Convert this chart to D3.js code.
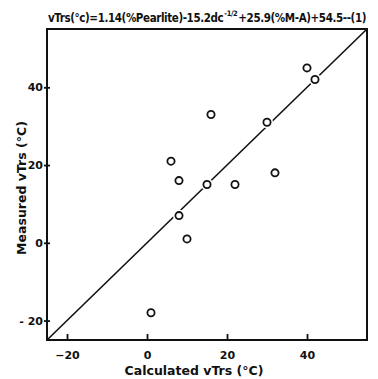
<!DOCTYPE html>
<meta charset="utf-8">
<style>
body { margin: 0; background: #fff; }
text { font-family: "DejaVu Sans", sans-serif; font-weight: bold; fill: #111; }
.tick text { font-size: 11px; }
.eq { font-family: "DejaVu Sans Condensed", "Liberation Sans Narrow", "DejaVu Sans", sans-serif; letter-spacing: -0.4px; }
</style>
<svg width="378" height="379"></svg>
<script src="https://d3js.org/d3.v7.min.js"></script>
<script>
// calculated vTrs (x) vs measured vTrs (y), degrees C
var calculated = [1, 6, 8, 8, 10, 15, 16, 22, 30, 32, 40, 42];
var measured = [-18, 21, 16, 7, 1, 15, 33, 15, 31, 18, 45, 42];
var xTicks = [-20, 0, 20, 40];
var yTicks = [-20, 0, 20, 40];
var lineEnds = [-25, 55];
</script>
<script>
var svg = d3.select("svg"),
    plotL = 47, plotR = 367, plotT = 29, plotB = 340;

var x = d3.scaleLinear().domain([-25, 55]).range([plotL, plotR]);
var y = d3.scaleLinear().domain([-25, 55]).range([plotB, plotT]);

// equality line
svg.append("line")
    .attr("x1", x(lineEnds[0])).attr("y1", y(lineEnds[0]))
    .attr("x2", x(lineEnds[1])).attr("y2", y(lineEnds[1]))
    .attr("stroke", "#111")
    .attr("stroke-width", 1.6);

// frame
svg.append("rect")
    .attr("x", plotL).attr("y", plotT)
    .attr("width", plotR - plotL).attr("height", plotB - plotT)
    .attr("fill", "none")
    .attr("stroke", "#111")
    .attr("stroke-width", 2);

var xAxis = svg.append("g")
    .attr("transform", "translate(0," + plotB + ")")
    .call(d3.axisBottom(x).tickValues(xTicks).tickSizeInner(-6).tickSizeOuter(0).tickPadding(11));
xAxis.select(".domain").remove();
xAxis.selectAll("line").attr("stroke-width", 1.8).attr("stroke", "#111");

var yAxis = svg.append("g")
    .attr("transform", "translate(" + plotL + ",0)")
    .call(d3.axisLeft(y).tickValues(yTicks).tickSizeInner(3).tickSizeOuter(0).tickPadding(1)
      .tickFormat(function(d) { return d < 0 ? "- " + (-d) : d; }));
yAxis.select(".domain").remove();
yAxis.selectAll("line").attr("stroke-width", 1.8).attr("stroke", "#111").attr("x2", 3).attr("x1", -3);

var pts = calculated.map(function(c, i) { return [c, measured[i]]; });

// white halo to break the line around each marker
svg.append("g").selectAll("circle")
    .data(pts)
  .enter().append("circle")
    .attr("cx", function(d) { return x(d[0]); })
    .attr("cy", function(d) { return y(d[1]); })
    .attr("r", 6)
    .attr("fill", "#fff");

svg.append("g").selectAll("circle")
    .data(pts)
  .enter().append("circle")
    .attr("cx", function(d) { return x(d[0]); })
    .attr("cy", function(d) { return y(d[1]); })
    .attr("r", 3.6)
    .attr("fill", "#fff")
    .attr("stroke", "#111")
    .attr("stroke-width", 1.8);

// axis titles
svg.append("text")
    .attr("x", 194).attr("y", 375)
    .attr("text-anchor", "middle")
    .style("font-size", "12.5px")
    .text("Calculated  vTrs (°C)");

svg.append("text")
    .attr("transform", "translate(26,188) rotate(-90)")
    .attr("text-anchor", "middle")
    .style("font-size", "12.5px")
    .text("Measured  vTrs  (°C)");

// equation at top: pieces placed one after another at natural width
var eqParts = [
  {t: "vTrs(°c)=1.14(%Pearlite)-15.2dc", y: 22, s: 11.5, gap: 1},
  {t: "-1/2", y: 16, s: 7.5, gap: 1},
  {t: "+25.9(%M-A)+54.5--(1)", y: 22, s: 11.5, gap: 0}
];
var eqX = 48;
eqParts.forEach(function(p) {
  var t = svg.append("text")
      .attr("class", "eq")
      .attr("x", eqX)
      .attr("y", p.y)
      .style("font-size", p.s + "px")
      .text(p.t);
  eqX += t.node().getComputedTextLength() + p.gap;
});
</script>
